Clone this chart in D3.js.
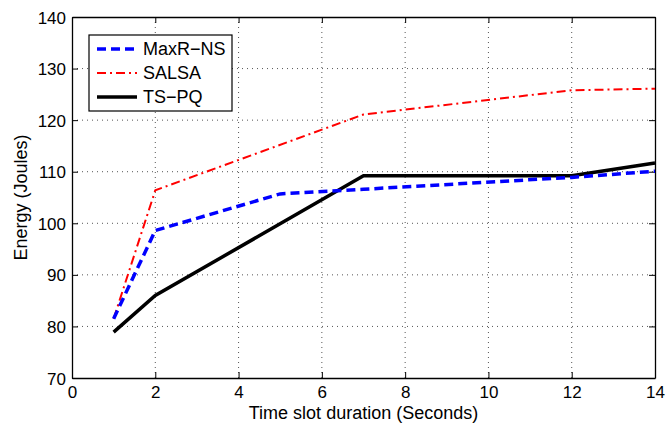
<!DOCTYPE html>
<html>
<head>
<meta charset="utf-8">
<script src="https://cdn.jsdelivr.net/npm/d3@7"></script>
<style>
  body { margin: 0; background: #fff; }
  svg { display: block; font-family: Arial, "Liberation Sans", sans-serif; }
</style>
</head>
<body>
<figure id="chart" style="margin:0"></figure>
<script>
// values
const slots = [1, 2, 5, 7, 12, 14];
const maxrNs = [81.5, 98.6, 105.7, 106.6, 108.9, 110.1];
const salsaX = [1, 2, 7, 12, 14];
const salsa = [81.5, 106.4, 121.1, 125.8, 126.1];
const tspqX = [1, 2, 7, 12, 14];
const tspq = [78.9, 86.0, 109.2, 109.2, 111.7];
const xTicks = [0, 2, 4, 6, 8, 10, 12, 14];
const yTicks = [70, 80, 90, 100, 110, 120, 130, 140];

const width = 666, height = 427;
const margin = { top: 17, right: 11, bottom: 49, left: 72 };
const w = width - margin.left - margin.right;
const h = height - margin.top - margin.bottom;

const svg = d3.select("#chart").append("svg")
  .attr("width", width)
  .attr("height", height);

const g = svg.append("g")
  .attr("transform", `translate(${margin.left},${margin.top})`);

const x = d3.scaleLinear().domain([0, 14]).range([0, w]);
const y = d3.scaleLinear().domain([70, 140]).range([h, 0]);

// dotted grid
g.append("g").selectAll("line")
  .data(xTicks.slice(1, -1))
  .enter().append("line")
  .attr("x1", d => x(d)).attr("x2", d => x(d))
  .attr("y1", 0).attr("y2", h)
  .attr("stroke", "#555").attr("stroke-width", 1)
  .attr("stroke-dasharray", "1,4");

g.append("g").selectAll("line")
  .data(yTicks.slice(1, -1))
  .enter().append("line")
  .attr("y1", d => y(d)).attr("y2", d => y(d))
  .attr("x1", 0).attr("x2", w)
  .attr("stroke", "#555").attr("stroke-width", 1)
  .attr("stroke-dasharray", "1,4");

// axes, ticks pointing inward on all sides
const xAxis = g.append("g")
  .attr("transform", `translate(0,${h})`)
  .call(d3.axisBottom(x).tickValues(xTicks).tickSizeInner(-6).tickSizeOuter(0).tickPadding(8));
const yAxis = g.append("g")
  .call(d3.axisLeft(y).tickValues(yTicks).tickSizeInner(-6).tickSizeOuter(0).tickPadding(6));
g.append("g")
  .call(d3.axisTop(x).tickValues(xTicks).tickSizeInner(-6).tickSizeOuter(0).tickFormat(""));
g.append("g")
  .attr("transform", `translate(${w},0)`)
  .call(d3.axisRight(y).tickValues(yTicks).tickSizeInner(-6).tickSizeOuter(0).tickFormat(""));

g.selectAll(".domain").attr("stroke", "#000").attr("stroke-width", 1.3);
g.selectAll(".tick line").attr("stroke", "#000");
xAxis.selectAll("text").attr("font-size", 17).attr("fill", "#000");
yAxis.selectAll("text").attr("font-size", 17).attr("fill", "#000").attr("dy", "0.36em");

// series
const line = d3.line().x(d => x(d[0])).y(d => y(d[1]));

g.append("path")
  .datum(d3.zip(salsaX, salsa))
  .attr("d", line)
  .attr("fill", "none")
  .attr("stroke", "#ff0000")
  .attr("stroke-width", 2)
  .attr("stroke-dasharray", "9,4,2,4");

g.append("path")
  .datum(d3.zip(tspqX, tspq))
  .attr("d", line)
  .attr("fill", "none")
  .attr("stroke", "#000")
  .attr("stroke-width", 3.5);

g.append("path")
  .datum(d3.zip(slots, maxrNs))
  .attr("d", line)
  .attr("fill", "none")
  .attr("stroke", "#0000ff")
  .attr("stroke-width", 3.5)
  .attr("stroke-dasharray", "9,5");

// axis titles
svg.append("text")
  .attr("x", margin.left + w / 2)
  .attr("y", 419)
  .attr("text-anchor", "middle")
  .attr("font-size", 18)
  .text("Time slot duration (Seconds)");

svg.append("text")
  .attr("transform", `translate(27,${margin.top + h / 2}) rotate(-90)`)
  .attr("text-anchor", "middle")
  .attr("font-size", 18)
  .text("Energy (Joules)");

// legend
const legendItems = [
  { name: "MaxR\u2212NS", color: "#0000ff", width: 3.5, dash: "9,5" },
  { name: "SALSA", color: "#ff0000", width: 2, dash: "9,4,2,4" },
  { name: "TS\u2212PQ", color: "#000", width: 3.5, dash: null }
];

const legend = svg.append("g").attr("transform", "translate(89,35)");
legend.append("rect")
  .attr("width", 143).attr("height", 76)
  .attr("fill", "#fff").attr("stroke", "#000").attr("stroke-width", 1.2);

legendItems.forEach((d, i) => {
  const row = legend.append("g").attr("transform", `translate(0,${14 + i * 24})`);
  row.append("line")
    .attr("x1", 8).attr("x2", 48)
    .attr("stroke", d.color)
    .attr("stroke-width", d.width)
    .attr("stroke-dasharray", d.dash);
  row.append("text")
    .attr("x", 54).attr("dy", "0.36em")
    .attr("font-size", 18)
    .text(d.name);
});
</script>
</body>
</html>
